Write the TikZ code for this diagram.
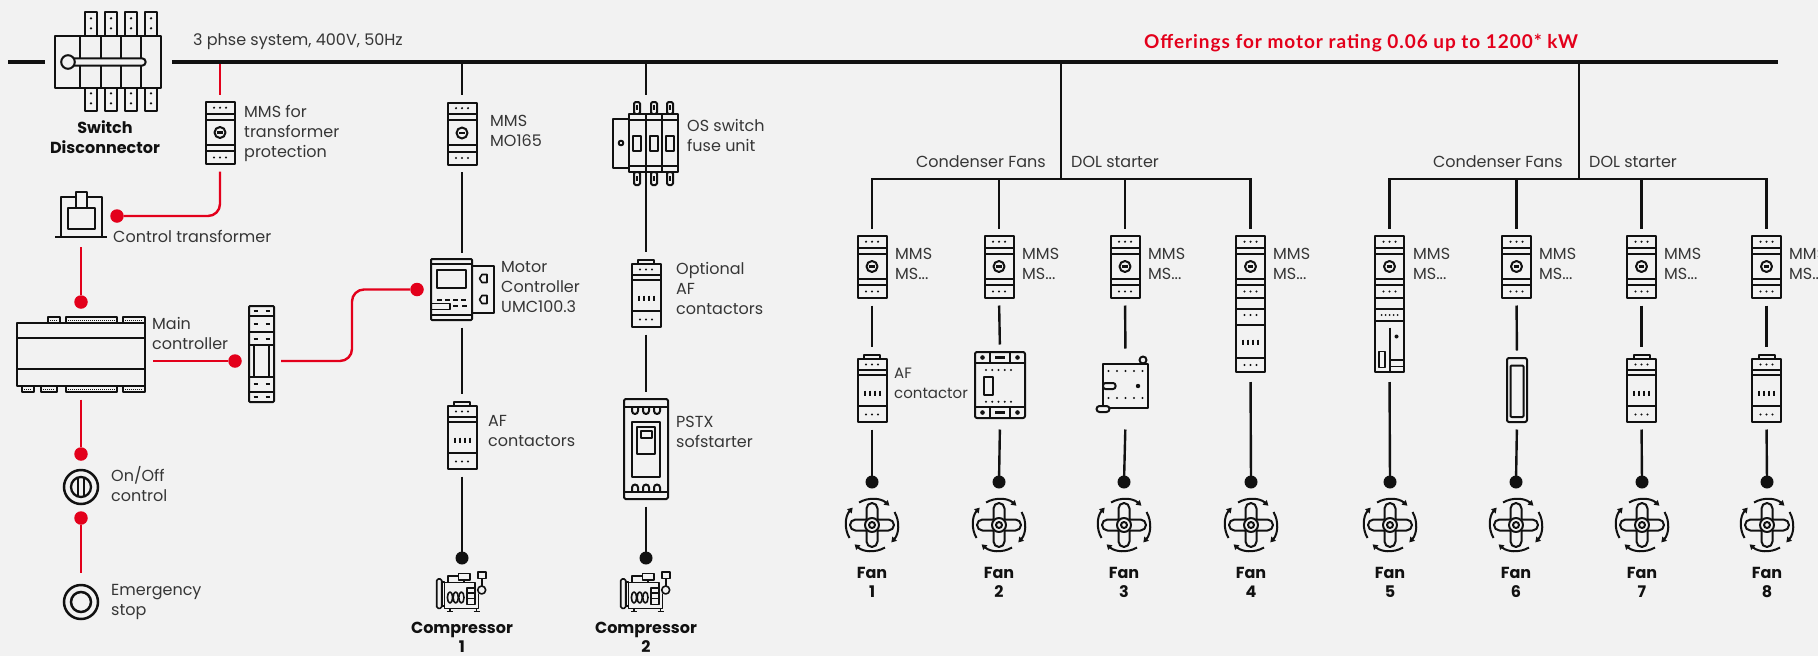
\documentclass[tikz,border=0pt]{standalone}
\usepackage{fontspec}
\setmainfont{Poppins}
\newfontfamily\titlefont[LetterSpace=5]{Lato}
\usetikzlibrary{arrows.meta}
\definecolor{bg}{HTML}{F2F2F2}
\definecolor{abbred}{HTML}{E3001B}
\definecolor{ink}{HTML}{111111}
\definecolor{txt}{HTML}{363636}

\tikzset{
  icon/.style={draw=ink, line width=2pt, line join=round},
  fine/.style={draw=ink, line width=1.6pt, line join=round},
  wire/.style={draw=ink, line width=2.4pt},
  busline/.style={draw=ink, line width=3.2pt},
  ctl/.style={draw=abbred, line width=2.4pt, rounded corners=12pt},
  gapS/.style={shorten <=#1}, gapS/.default=7.5pt,
  gapE/.style={shorten >=#1}, gapE/.default=7.5pt,
  reddot/.style={circle, fill=abbred, inner sep=0pt, minimum size=13.5pt},
  blackdot/.style={circle, fill=ink, inner sep=0pt, minimum size=13pt},
  hook/.style={inner sep=0pt, outer sep=0pt, draw=none},
  lbl/.style={font=\fontsize{16}{20}\selectfont, text=txt, align=left, anchor=west, inner sep=0pt},
  blbl/.style={font=\bfseries\fontsize{16}{19.5}\selectfont, text=ink, align=center, inner sep=0pt},
  ttl/.style={font=\titlefont\bfseries\fontsize{19}{22}\selectfont, text=abbred, anchor=west, inner sep=0pt},
}

% ---------- device symbols ----------
\tikzset{
  mms/.pic={
    \node[hook, minimum width=30pt, minimum height=62pt] (-box) {};
    \draw[icon] (-14.5,-31) rectangle (14.5,31);
    \draw[icon] (-14.5,-19.5) -- (14.5,-19.5) (-14.5,-13.5) -- (14.5,-13.5)
                (-14.5,11.5) -- (14.5,11.5) (-14.5,18) -- (14.5,18);
    \foreach \xx in {-6,0,6}{\fill[ink] (\xx,-25.3) circle (1.2); \fill[ink] (\xx,24.5) circle (1.2);}
    \draw[icon] (0,-0.5) circle (5.5);
    \draw[ink, line width=2.2pt] (-2.8,-0.5) -- (2.8,-0.5);
  },
  mmsaf/.pic={
    \node[hook, minimum width=30pt, minimum height=136pt] (-box) {};
    \draw[icon] (-14.5,-68) rectangle (14.5,68);
    \draw[icon] (-14.5,-56.5) -- (14.5,-56.5) (-14.5,-50.5) -- (14.5,-50.5)
                (-14.5,-25.5) -- (14.5,-25.5) (-14.5,-19) -- (14.5,-19)
                (-14.5,-6) -- (14.5,-6) (-14.5,5) -- (14.5,5)
                (-14.5,21) -- (14.5,21) (-14.5,53.5) -- (14.5,53.5);
    \foreach \yy in {-62.3,-12.5,11,61}{\foreach \xx in {-6,0,6}{\fill[ink] (\xx,\yy) circle (1.2);}}
    \draw[icon] (0,-37.5) circle (5.5);
    \draw[ink, line width=2.2pt] (-2.8,-37.5) -- (2.8,-37.5);
    \foreach \xx in {-7.5,-2.5,2.5,7.5}{\draw[ink, line width=2pt] (\xx,35.5) -- (\xx,41);}
  },
  mmssoft/.pic={
    \node[hook, minimum width=30pt, minimum height=136pt] (-box) {};
    \draw[icon] (-14.5,-68) rectangle (14.5,68);
    \draw[icon] (-14.5,-56.5) -- (14.5,-56.5) (-14.5,-50.5) -- (14.5,-50.5)
                (-14.5,-25.5) -- (14.5,-25.5) (-14.5,-19) -- (14.5,-19)
                (-14.5,-6) -- (14.5,-6) (-14.5,5) -- (14.5,5) (-14.5,16.5) -- (14.5,16.5);
    \foreach \yy in {-62.3,-12.5}{\foreach \xx in {-6,0,6}{\fill[ink] (\xx,\yy) circle (1.2);}}
    \foreach \xx in {-8,-4,0,4,8}{\fill[ink] (\xx,11) circle (1);}
    \draw[icon] (0,-37.5) circle (5.5);
    \draw[ink, line width=2.2pt] (-2.8,-37.5) -- (2.8,-37.5);
    \draw[icon] (0,23.5) -- (0,68);
    \fill[ink] (7,32.5) circle (2);
    \draw[fine] (-10.5,47.5) rectangle (-4.5,63.5);
    \draw[fine] (0,56) -- (14.5,56) (0,62.5) -- (14.5,62.5);
  },
  afc/.pic={
    \node[hook, minimum width=30pt, minimum height=68pt] (-box) at (0,-2.5) {};
    \draw[icon] (-14.5,-31.5) rectangle (14.5,31.5);
    \draw[icon] (-8,-31.5) -- (-8,-36) -- (8,-36) -- (8,-31.5);
    \draw[icon] (-14.5,-20.5) -- (14.5,-20.5) (-14.5,-15.5) -- (14.5,-15.5) (-14.5,15.5) -- (14.5,15.5);
    \foreach \xx in {-6,0,6}{\fill[ink] (\xx,-26) circle (1.2); \fill[ink] (\xx,24) circle (1.2);}
    \foreach \xx in {-7.5,-2.5,2.5,7.5}{\draw[ink, line width=2pt] (\xx,0) -- (\xx,5.5);}
  },
  bigcon/.pic={
    \node[hook, minimum width=50pt, minimum height=70pt] (-box) at (0,2) {};
    \draw[icon, rounded corners=2] (-25,-33) rectangle (25,33);
    \draw[icon] (-25,-22) -- (25,-22) (-25,22) -- (25,22)
                (-10,-33) -- (-10,-22) (10,-33) -- (10,-22) (-10,22) -- (-10,33) (10,22) -- (10,33);
    \foreach \yy in {-27.5,27.5}{
      \fill[ink] (-17.5,\yy) circle (2.3); \fill[ink] (17.5,\yy) circle (2.3);
      \draw[ink, line width=2.2pt] (-5,\yy) -- (5,\yy);}
    \foreach \xx in {-14,-7.75,-1.5,4.75,11}{\fill[ink] (\xx,-15) circle (1.1); \fill[ink] (\xx,16.7) circle (1.1);}
    \draw[icon] (-16,-8) rectangle (-7,10);
  },
  ovl/.pic={
    \node[hook, minimum width=45pt, minimum height=66pt] (-box) at (0,3) {};
    \draw[icon] (-22.5,-22) rectangle (22.5,22);
    \draw[icon, fill=bg] (17.5,-26) circle (3.5);
    \foreach \xx in {-17,-8.5,0,8.5,17}{\fill[ink] (\xx,-15) circle (1.1); \fill[ink] (\xx,12) circle (1.1);}
    \draw[icon, fill=bg, rounded corners=2.5] (-22.5,-3) rectangle (-10,3);
    \fill[ink] (12.5,0) circle (2.2);
    \draw[icon, fill=bg, rounded corners=3] (-29,20) rectangle (-16,26);
  },
  fuse/.pic={
    \node[hook, minimum width=20pt, minimum height=64pt] (-box) {};
    \draw[icon, rounded corners=2] (-10,-32) rectangle (10,32);
    \draw[icon, rounded corners=1] (-6.5,-24.5) rectangle (6.5,27);
  },
  umc/.pic={
    \node[hook, minimum width=20pt, minimum height=61pt] (-box) {};
    \draw[icon, rounded corners=1] (-31,-30.5) rectangle (10,30.5);
    \draw[icon] (10,-23.5) -- (32,-23.5) -- (32,23.5) -- (10,23.5);
    \draw[icon] (-31,-25.5) -- (10,-25.5) (-31,25.5) -- (10,25.5);
    \draw[icon] (-25,-19.5) rectangle (4,-1.5);
    \foreach \xx in {-25,-17,-9,-1}{\draw[ink, line width=2pt] (\xx,10) -- (\xx+5,10);}
    \draw[fine] (-31,14) rectangle (-12,20);
    \foreach \xx in {-9,0}{\draw[ink, line width=2pt] (\xx,16.5) -- (\xx+5,16.5);}
    \foreach \yy in {-11,10}{\draw[fine] (25,\yy-4) -- (20,\yy-4) -- (17.5,\yy) -- (20,\yy+4) -- (25,\yy+4) -- cycle;}
  },
  osfuse/.pic={
    \node[hook, minimum width=10pt, minimum height=70pt] (-box) at (0,-6) {};
    \draw[icon] (-33,-24) rectangle (-17,25);
    \draw[icon] (-25,0) circle (2.3);
    \foreach \xx in {-9,8,24}{
      \draw[icon, rounded corners=1.5] (\xx-3,-41) rectangle (\xx+3,-29);
      \draw[ink, line width=1.6pt] (\xx,-38) -- (\xx,-33);
      \draw[icon, rounded corners=1.5] (\xx-3,29) rectangle (\xx+3,42);
      \draw[ink, line width=1.6pt] (\xx,33) -- (\xx,38);
    }
    \draw[icon, fill=bg] (-17,-29) rectangle (32,29);
    \draw[icon] (-17,-23) -- (32,-23) (-17,22.5) -- (32,22.5) (0,-29) -- (0,29) (16,-29) -- (16,29);
    \foreach \xx in {-9,8,24}{\draw[icon] (\xx-4,-7.5) rectangle (\xx+4,8);}
  },
  pstx/.pic={
    \node[hook, minimum width=44pt, minimum height=100pt] (-box) {};
    \draw[icon, rounded corners=1.5] (-22,-50) rectangle (22,50);
    \draw[icon] (-22,-42.5) -- (22,-42.5) (-22,43) -- (22,43);
    \foreach \xx in {-11,0,11}{
      \draw[icon] (\xx-3,-42.5) -- (\xx-3,-38) arc[start angle=180, end angle=0, radius=3] -- (\xx+3,-42.5);
      \draw[icon] (\xx-3,43) -- (\xx-3,38.5) arc[start angle=180, end angle=360, radius=3] -- (\xx+3,43);
    }
    \draw[icon] (-14,-27) rectangle (14,28);
    \draw[icon] (-9,-22) rectangle (9,5);
    \draw[icon] (-5.5,-18.5) rectangle (5.5,-11);
  },
  relay/.pic={
    \node[hook, minimum width=25pt, minimum height=96pt] (-box) {};
    \draw[icon, rounded corners=1] (-12.5,-48) rectangle (12.5,48);
    \draw[icon] (-12.5,-38) -- (12.5,-38) (-12.5,-22.3) -- (12.5,-22.3) (-12.5,-9) -- (12.5,-9)
                (-12.5,22.7) -- (12.5,22.7) (-12.5,37.7) -- (12.5,37.7)
                (-7.5,-9) -- (-7.5,22.7) (7.5,-9) -- (7.5,22.7);
    \foreach \yy in {-43,-29.7,-15,30,42.7}{\draw[ink, line width=2pt] (-8,\yy) -- (-4,\yy) (4,\yy) -- (8,\yy);}
  },
  mainctl/.pic={
    \node[hook, minimum width=128pt, minimum height=75pt] (-box) {};
    \draw[icon] (-64,-31.5) rectangle (64,31.5);
    \draw[icon] (-64,-16.5) -- (64,-16.5) (-64,14.5) -- (64,14.5);
    \foreach \a/\b in {-33/-21,-15/36,42/64}{
      \draw[fine] (\a,-37.5) rectangle (\b,-31.5);
      \draw[ink, line width=1pt, dash pattern=on 1pt off 1pt] (\a+2,-34.5) -- (\b-2,-34.5);}
    \foreach \a/\b in {-59/-47,-40/-24,-15/36,42/64}{
      \draw[fine] (\a,31.5) rectangle (\b,37.5);
      \draw[ink, line width=1pt, dash pattern=on 1pt off 1pt] (\a+2,34.5) -- (\b-2,34.5);}
  },
  ctrafo/.pic={
    \node[hook, minimum width=52pt, minimum height=45pt] (-box) at (0,-0.5) {};
    \draw[icon] (-20.5,22.3) -- (-20.5,-18.3) -- (20.5,-18.3) -- (20.5,22.3);
    \draw[icon] (-26,22.3) -- (26,22.3);
    \draw[icon] (-13.3,-6.7) rectangle (14,14.3);
    \draw[icon, fill=bg] (-5,-22.7) rectangle (5.7,-6.7);
  },
  swdisc/.pic={
    \node[hook, minimum width=106pt, minimum height=52pt] (-box) {};
    \foreach \xx in {-17,3,23,43}{
      \draw[icon] (\xx-6,-49.7) rectangle (\xx+6,-26);
      \fill[ink] (\xx,-43.7) circle (1.3) (\xx,-33.7) circle (1.3);
      \draw[icon] (\xx-6,26) rectangle (\xx+6,49);
      \fill[ink] (\xx,31.3) circle (1.3) (\xx,41.3) circle (1.3);
    }
    \draw[icon] (-53,-26) rectangle (53,26);
    \draw[icon] (-28,-26) -- (-28,26) (-7,-26) -- (-7,26) (13,-26) -- (13,26) (33,-26) -- (33,26);
    \draw[icon, fill=bg, rounded corners=3.7] (-35,-3.7) -- (37.7,-3.7) -- (37.7,3.7) -- (-35,3.7);
    \draw[icon, fill=bg] (-40,0) circle (6.8);
  },
  onoff/.pic={
    \node[hook, circle, minimum size=36pt] (-box) {};
    \draw[ink, line width=2.5pt] (0,0) circle (17);
    \draw[ink, line width=2.3pt] (0,0) circle (10);
    \draw[icon] (-2.8,-9.5) -- (-2.8,9.5) (2.8,-9.5) -- (2.8,9.5);
  },
  estop/.pic={
    \node[hook, circle, minimum size=36pt] (-box) {};
    \draw[ink, line width=2.5pt] (0,0) circle (17);
    \draw[ink, line width=2.5pt] (0,0) circle (10);
  },
  fan/.pic={
    \node[hook, circle, minimum size=56pt] (-box) {};
    \foreach \s/\e in {-120/-48,-30/42,60/132,150/222}{
      \draw[icon, -{Triangle[length=5pt,width=6pt]}] (\s:26) arc[start angle=\s, end angle=\e, radius=26];}
    \draw[icon] (5.5,5.5) -- (16.5,5.5) arc[start angle=90, end angle=-90, radius=5.5]
       -- (5.5,-5.5) -- (5.5,-16.5) arc[start angle=0, end angle=-180, radius=5.5]
       -- (-5.5,-5.5) -- (-16.5,-5.5) arc[start angle=270, end angle=90, radius=5.5]
       -- (-5.5,5.5) -- (-5.5,16.5) arc[start angle=180, end angle=0, radius=5.5] -- cycle;
    \draw[icon, fill=bg] (0,0) circle (7);
    \draw[icon] (0,0) circle (3);
  },
  comp/.pic={
    \node[hook, minimum width=50pt, minimum height=40pt] (-box) {};
    \draw[fine, rounded corners=1.5] (-24.3,-13) rectangle (-19.3,16.3);
    \draw[fine] (-19.3,-10) rectangle (-16.7,13.7);
    \draw[fine] (-16.7,-9.7) -- (-16.7,16.3) -- (17.5,16.3) -- (17.5,2);
    \draw[fine] (-13.3,-9.7) -- (-13.3,-16) -- (-2.7,-16);
    \draw[fine] (-16.7,-9.7) -- (14,-9.7) -- (14,-4.3);
    \draw[fine] (-2.7,-18.7) rectangle (9,-12);
    \draw[fine] (3,-12) -- (3,-9.7);
    \draw[fine] (16.7,-20.3) rectangle (24.7,-13.7);
    \draw[fine] (20.7,-13.7) -- (20.7,-6);
    \draw[fine] (20.7,-2) circle (4);
    \foreach \xx in {-11,-5.3,0.4}{\draw[fine] (\xx,5.5) ellipse (2.6 and 5.6);}
    \draw[fine] (5.7,-4.3) rectangle (14,12.3);
    \draw[fine] (5.7,1.2) -- (14,1.2) (5.7,6.6) -- (14,6.6);
    \draw[fine] (-11,16.3) -- (-11,19.5) (-14,19.5) -- (-8,19.5)
                (15.5,16.3) -- (15.5,19.5) (12.5,19.5) -- (18.5,19.5);
  },
}

\begin{document}
\begin{tikzpicture}[x=1pt, y=-1pt]
\fill[bg] (0,0) rectangle (1818,656);
\useasboundingbox (0,0) rectangle (1818,656);
\clip (0,0) rectangle (1818,656);

% ---------- supply and main switch ----------
\coordinate (busW) at (8,62);
\coordinate (busE) at (1778,62);
\pic (sd) at (108,62) {swdisc};
\node[blbl] (sdlab) at (105,137) {Switch\\Disconnector};
\node[lbl] (syslab) at (193,42) {3 phse system, 400V, 50Hz};
\node[ttl] (offer) at (1144,43) {Offerings for motor rating 0.06 up to 1200* kW};

% ---------- control branch ----------
\pic (m0) at (220,133) {mms};
\node[lbl] (m0lab) at (244,133) {MMS for\\transformer\\protection};
\pic (ct) at (81,215) {ctrafo};
\node[lbl] (ctlab) at (113,236) {Control transformer};
\pic (mc) at (81,354.5) {mainctl};
\node[lbl] (mclab) at (152,333) {Main\\controller};
\pic (rl) at (261.5,354) {relay};
\pic (oo) at (81,487) {onoff};
\node[lbl] (oolab) at (111,484) {On/Off\\control};
\pic (es) at (81,602) {estop};
\node[lbl] (eslab) at (111,602) {Emergency\\stop};

\node[reddot] (rd0) at (117,216) {};
\node[reddot] (rd1) at (81,302) {};
\node[reddot] (rd2) at (81,454) {};
\node[reddot] (rd3) at (81,518) {};
\node[reddot] (rd4) at (235,361) {};
\node[reddot] (rd5) at (417,289.5) {};
\coordinate (bend) at (352,300);

\draw[ctl, gapE] (m0-box.north |- busE) -- (m0-box.north);
\draw[ctl, gapS] (m0-box.south) -- (m0-box.south |- rd0) -- (rd0);
\draw[ctl, gapS=10pt] (ct-box.south) -- (rd1);
\draw[ctl, gapS] (mc-box.south) -- (rd2);
\draw[ctl, gapE=11pt] (rd3) -- (es-box.north);
\draw[ctl, gapS=8pt] (mc-box.east |- rd4) -- (rd4);
\draw[ctl, gapS=7pt] (rl-box.east |- rd4) -- (bend |- rd4) -- (bend |- rd5) -- (rd5);

% ---------- compressor 1 ----------
\pic (m1) at (462,133.5) {mms};
\node[lbl] (m1lab) at (490,131) {MMS\\MO165};
\pic (umc) at (462,289.5) {umc};
\node[lbl] (umclab) at (501,287) {Motor\\Controller\\UMC100.3};
\pic (ac1) at (462,437.5) {afc};
\node[lbl] (ac1lab) at (488,431) {AF\\contactors};
\node[blackdot] (cd1) at (462,558) {};
\pic (comp1) at (461,592) {comp};
\node[blbl] (comp1lab) at (462,637.5) {Compressor\\1};
\draw[wire, gapE] (m1-box.north |- busE) -- (m1-box.north);
\draw[wire, gapS, gapE=6pt] (m1-box.south) -- (umc-box.north);
\draw[wire, gapS, gapE] (umc-box.south) -- (ac1-box.north);
\draw[wire, gapS] (ac1-box.south) -- (cd1.center);

% ---------- compressor 2 ----------
\pic (os) at (646,143) {osfuse};
\node[lbl] (oslab) at (687,135.5) {OS switch\\fuse unit};
\pic (ac2) at (646,295.5) {afc};
\node[lbl] (ac2lab) at (676,288) {Optional\\AF\\contactors};
\pic (ps) at (646,449) {pstx};
\node[lbl] (pslab) at (676,432) {PSTX\\sofstarter};
\node[blackdot] (cd2) at (646,558) {};
\pic (comp2) at (645,592) {comp};
\node[blbl] (comp2lab) at (646,637.5) {Compressor\\2};
\draw[wire, gapE] (os-box.north |- busE) -- (os-box.north);
\draw[wire, gapE] (os-box.south) -- (ac2-box.north);
\draw[wire, gapS, gapE] (ac2-box.south) -- (ps-box.north);
\draw[wire, gapS] (ps-box.south) -- (cd2.center);

% ---------- condenser fan groups ----------
\coordinate (j1) at (1061,179);
\coordinate (j2) at (1579,179);
\node[lbl, anchor=east] (cf1) at (1046,162) {Condenser Fans};
\node[lbl] (dol1) at (1071,162) {DOL starter};
\node[lbl, anchor=east] (cf2) at (1563,162) {Condenser Fans};
\node[lbl] (dol2) at (1589,162) {DOL starter};

\pic (f1m) at (872,267) {mms};
\pic (f2m) at (999,267) {mms};
\pic (f3m) at (1125,267) {mms};
\pic (f4m) at (1250.5,304) {mmsaf};
\pic (f5m) at (1389.5,304) {mmssoft};
\pic (f6m) at (1516.5,267) {mms};
\pic (f7m) at (1641.5,267) {mms};
\pic (f8m) at (1766.5,267) {mms};

\foreach \nm/\xx in {a/895,b/1022,c/1148,d/1273,e/1413,f/1539,g/1664,h/1789}{
  \node[lbl] (mslab\nm) at (\xx,263.5) {MMS\\MS...};
}

\pic (f1c) at (872,390.5) {afc};
\node[lbl, font=\fontsize{15}{20}\selectfont] (f1clab) at (894,383) {AF\\contactor};
\pic (f2c) at (1000,385) {bigcon};
\pic (f3c) at (1125.5,386) {ovl};
\pic (f6c) at (1517,390) {fuse};
\pic (f7c) at (1641.5,390.5) {afc};
\pic (f8c) at (1766.5,390.5) {afc};

\foreach \k/\xx in {1/872,2/999,3/1124,4/1251,5/1390,6/1516,7/1642,8/1767}{
  \node[blackdot] (fd\k) at (\xx,482) {};
  \pic (fan\k) at (\xx,525) {fan};
  \node[blbl] (fanlab\k) at (\xx,582.5) {Fan\\\k};
}

\draw[wire] (j1 |- busE) -- (j1);
\draw[wire, gapS, gapE] (f1m-box.north) -- (f1m-box.north |- j1) -- (f4m-box.north |- j1) -- (f4m-box.north);
\draw[wire, gapE] (f2m-box.north |- j1) -- (f2m-box.north);
\draw[wire, gapE] (f3m-box.north |- j1) -- (f3m-box.north);
\draw[wire] (j2 |- busE) -- (j2);
\draw[wire, gapS, gapE] (f5m-box.north) -- (f5m-box.north |- j2) -- (f8m-box.north |- j2) -- (f8m-box.north);
\draw[wire, gapE] (f6m-box.north |- j2) -- (f6m-box.north);
\draw[wire, gapE] (f7m-box.north |- j2) -- (f7m-box.north);

\draw[wire, gapS, gapE] (f1m-box.south) -- (f1c-box.north);
\draw[wire, gapS] (f1c-box.south) -- (fd1.center);
\draw[wire, gapS, gapE] (f2m-box.south) -- (f2c-box.north);
\draw[wire, gapS] (f2c-box.south) -- (fd2.center);
\draw[wire, gapS, gapE] (f3m-box.south) -- (f3c-box.north);
\draw[wire, gapS] (f3c-box.south) -- (fd3.center);
\draw[wire, gapS=10pt] (f4m-box.south) -- (fd4.center);
\draw[wire, gapS=10pt] (f5m-box.south) -- (fd5.center);
\draw[wire, gapS, gapE] (f6m-box.south) -- (f6c-box.north);
\draw[wire, gapS] (f6c-box.south) -- (fd6.center);
\draw[wire, gapS, gapE] (f7m-box.south) -- (f7c-box.north);
\draw[wire, gapS] (f7c-box.south) -- (fd7.center);
\draw[wire, gapS, gapE] (f8m-box.south) -- (f8c-box.north);
\draw[wire, gapS] (f8c-box.south) -- (fd8.center);

% ---------- main bus on top ----------
\draw[busline, gapE=10pt] (busW) -- (sd-box.west);
\draw[busline, gapS=11pt] (sd-box.east) -- (busE);
\end{tikzpicture}
\end{document}
